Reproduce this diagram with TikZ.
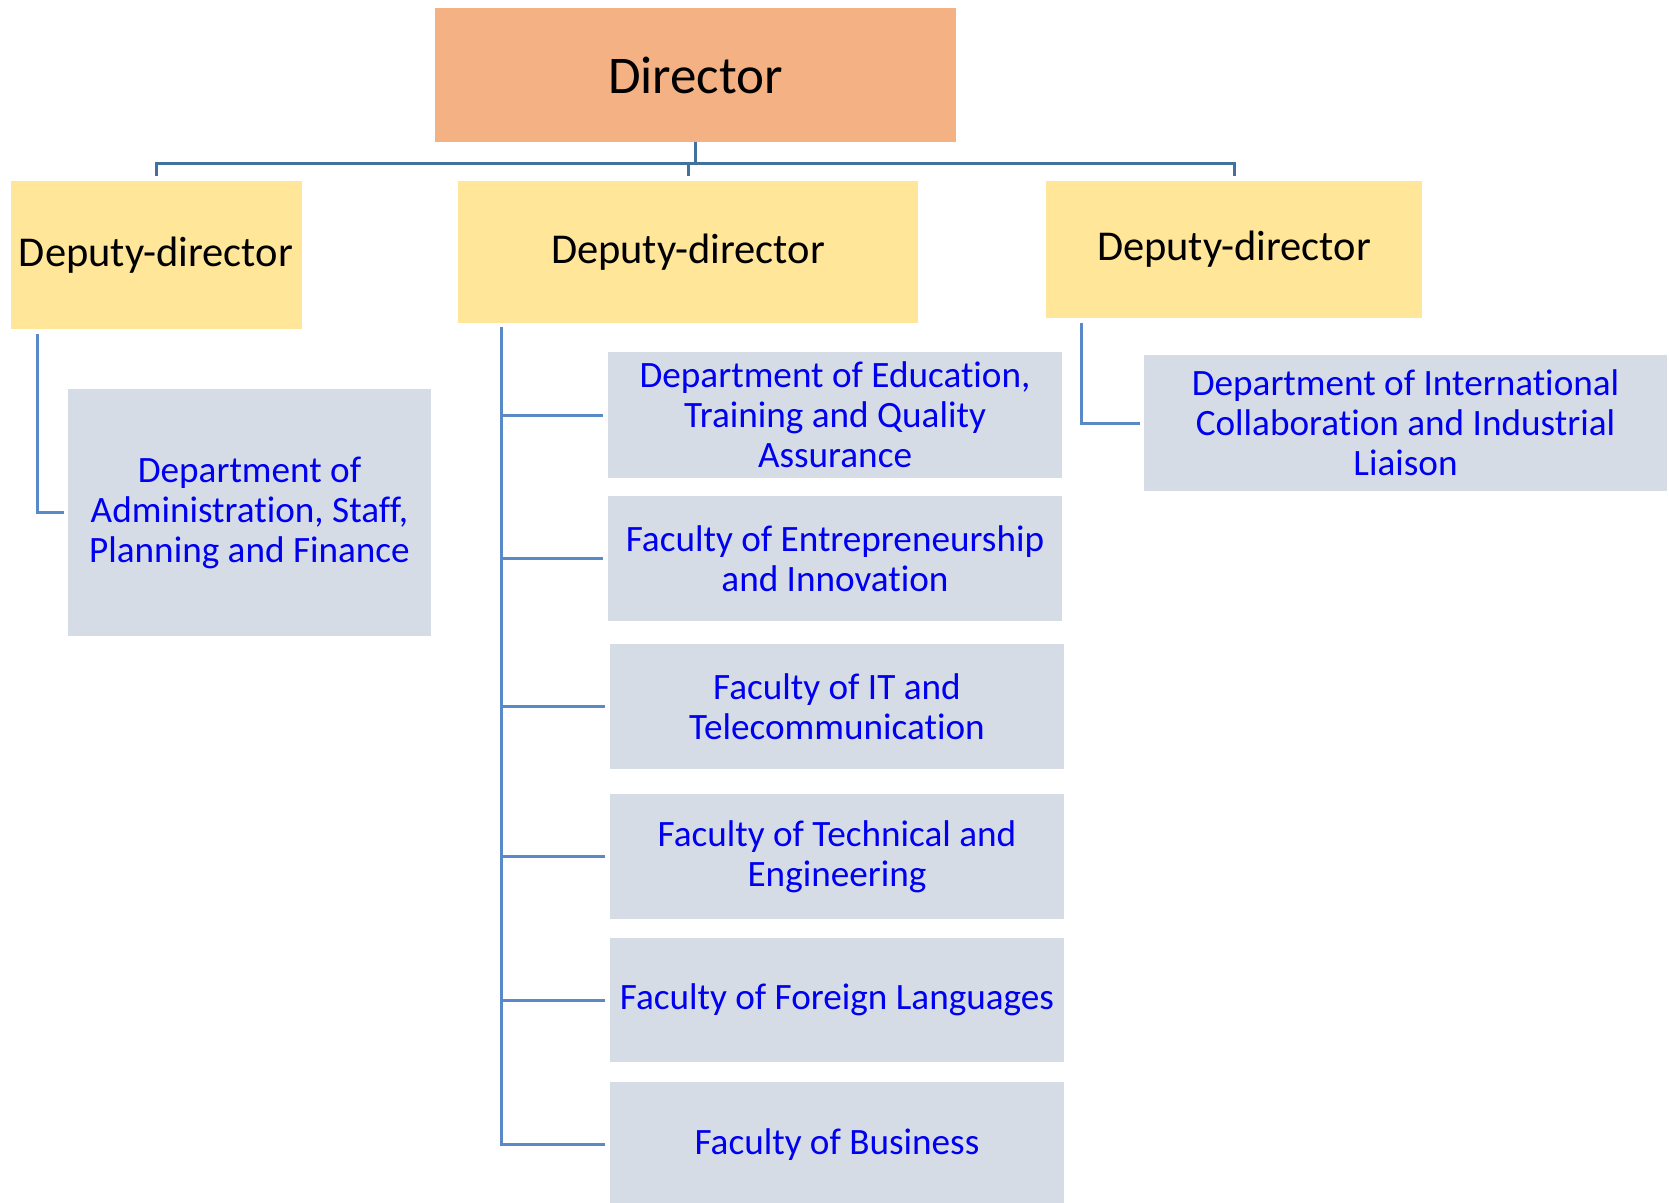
\documentclass[tikz,border=0pt]{standalone}
\usepackage{fontspec}
\setmainfont{Carlito}[Ligatures=NoCommon]
\newcommand{\tix}{t\kern0pt i}
\definecolor{dirfill}{HTML}{F4B183}
\definecolor{depfill}{HTML}{FFE699}
\definecolor{unitfill}{HTML}{D6DCE5}
\definecolor{topblue}{HTML}{41719C}
\definecolor{linkblue}{HTML}{5A8AC6}
\definecolor{txtblue}{HTML}{0000F0}
\begin{document}
\begin{tikzpicture}[x=1pt,y=-1pt,
  dirbox/.style={fill=dirfill, inner sep=0pt, align=center, font=\fontsize{53}{60}\selectfont},
  depbox/.style={fill=depfill, inner sep=0pt, align=center, font=\fontsize{42.5}{48}\selectfont},
  unitbox/.style={fill=unitfill, inner sep=0pt, align=center, text=txtblue, font=\fontsize{37.2}{40}\selectfont},
  topline/.style={draw=topblue, line width=3pt},
  linkline/.style={draw=linkblue, line width=3pt}]
\useasboundingbox (0,0) rectangle (1669,1202);
\fill[white] (0,0) rectangle (1669,1202);

\node[dirbox, minimum width=521pt, minimum height=134.5pt] (dir) at (695.5,75) {Director};

\node[depbox, minimum width=291pt, minimum height=148pt] (d1) at (156,255) {Deputy-director};
\node[depbox, minimum width=460pt, minimum height=142pt] (d2) at (688,252) {Deputy-director};
\node[depbox, minimum width=376pt, minimum height=137pt] (d3) at (1234,249.5) {Deputy-director};

\node[unitbox, minimum width=363pt, minimum height=247pt] (adm) at (249.5,512.5) {Department of\\Administra\tix on, Staff,\\Planning and Finance};

\node[unitbox, minimum width=454pt, minimum height=126pt] (m1) at (835,415) {Department of Educa\tix on,\\Training and Quality\\Assurance};
\node[unitbox, minimum width=454pt, minimum height=125pt] (m2) at (835,558.5) {Faculty of Entrepreneurship\\and Innova\tix on};
\node[unitbox, minimum width=454pt, minimum height=125pt] (m3) at (837,706.5) {Faculty of IT and\\Telecommunica\tix on};
\node[unitbox, minimum width=454pt, minimum height=125pt] (m4) at (837,856.5) {Faculty of Technical and\\Engineering};
\node[unitbox, minimum width=454pt, minimum height=124pt] (m5) at (837,1000) {Faculty of Foreign Languages};
\node[unitbox, minimum width=454pt, minimum height=125pt] (m6) at (837,1144.5) {Faculty of Business};

\node[unitbox, minimum width=523pt, minimum height=136pt] (intl) at (1405.5,423) {Department of Interna\tix onal\\Collabora\tix on and Industrial\\Liaison};

% top bus
\coordinate (bus) at (0,163);
\draw[topline] (dir.south) -- (dir.south |- bus);
\draw[topline] ([yshift=5pt]d1.north) -- (d1.north |- bus) -- (d3.north |- bus) -- ([yshift=5pt]d3.north);
\draw[topline] (d2.north |- bus) -- ([yshift=5pt]d2.north);

% left branch
\draw[linkline] ([xshift=27pt,yshift=-5pt]d1.south west) |- ([xshift=-4pt]adm.west);

% middle branch
\coordinate (mv) at ([xshift=44pt,yshift=-4pt]d2.south west);
\draw[linkline] (mv) |- ([xshift=-5pt]m6.west);
\foreach \m in {m1,m2,m3,m4,m5}{
  \draw[linkline] (mv |- \m.west) -- ([xshift=-5pt]\m.west);
}

% right branch
\draw[linkline] ([xshift=36pt,yshift=-5pt]d3.south west) |- ([xshift=-4pt]intl.west);
\end{tikzpicture}
\end{document}
